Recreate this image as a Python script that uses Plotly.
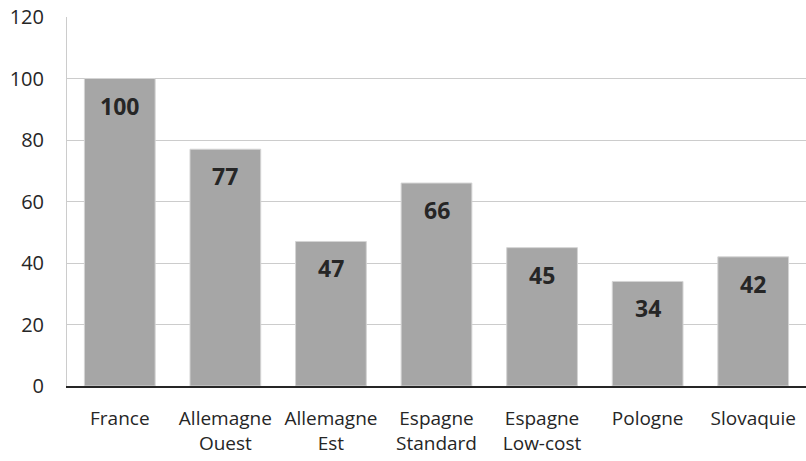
import plotly.graph_objects as go

categories = ["France", "Allemagne<br>Ouest", "Allemagne<br>Est", "Espagne<br>Standard",
              "Espagne<br>Low-cost", "Pologne", "Slovaquie"]
values = [100, 77, 47, 66, 45, 34, 42]
y_ticks = [0, 20, 40, 60, 80, 100, 120]

font_family = "Open Sans, Liberation Sans, sans-serif"

fig = go.Figure()
fig.add_trace(go.Bar(
    x=list(range(len(categories))),
    y=values,
    marker=dict(color="#a6a6a6", line=dict(color="#d4d4d4", width=1)),
    width=0.67,
    hoverinfo="skip",
))

for i, v in enumerate(values):
    fig.add_annotation(
        x=i, y=v, text=f"<b>{v}</b>", showarrow=False,
        yanchor="top", yshift=-9,
        font=dict(family=font_family, size=23, color="#262626"),
    )

fig.update_layout(
    width=806, height=461,
    margin=dict(l=67, r=0, t=17, b=75),
    plot_bgcolor="white", paper_bgcolor="white",
    showlegend=False,
    font=dict(family=font_family, size=19, color="#262626"),
    xaxis=dict(
        tickmode="array", tickvals=list(range(len(categories))), ticktext=categories,
        range=[-0.5, len(categories) - 0.5],
        showline=True, linecolor="#262626", linewidth=2,
        showgrid=False, ticks="", ticklen=0,
        tickfont=dict(size=19, color="#262626"),
        ticklabelstandoff=14,
    ),
    yaxis=dict(
        range=[0, 120], tickvals=y_ticks,
        showgrid=True, gridcolor="#cccccc", gridwidth=1,
        showline=True, linecolor="#cccccc", linewidth=1,
        ticks="", zeroline=False,
        tickfont=dict(size=20, color="#262626"),
        ticklabelstandoff=18,
    ),
)

fig.write_html("out.html")
